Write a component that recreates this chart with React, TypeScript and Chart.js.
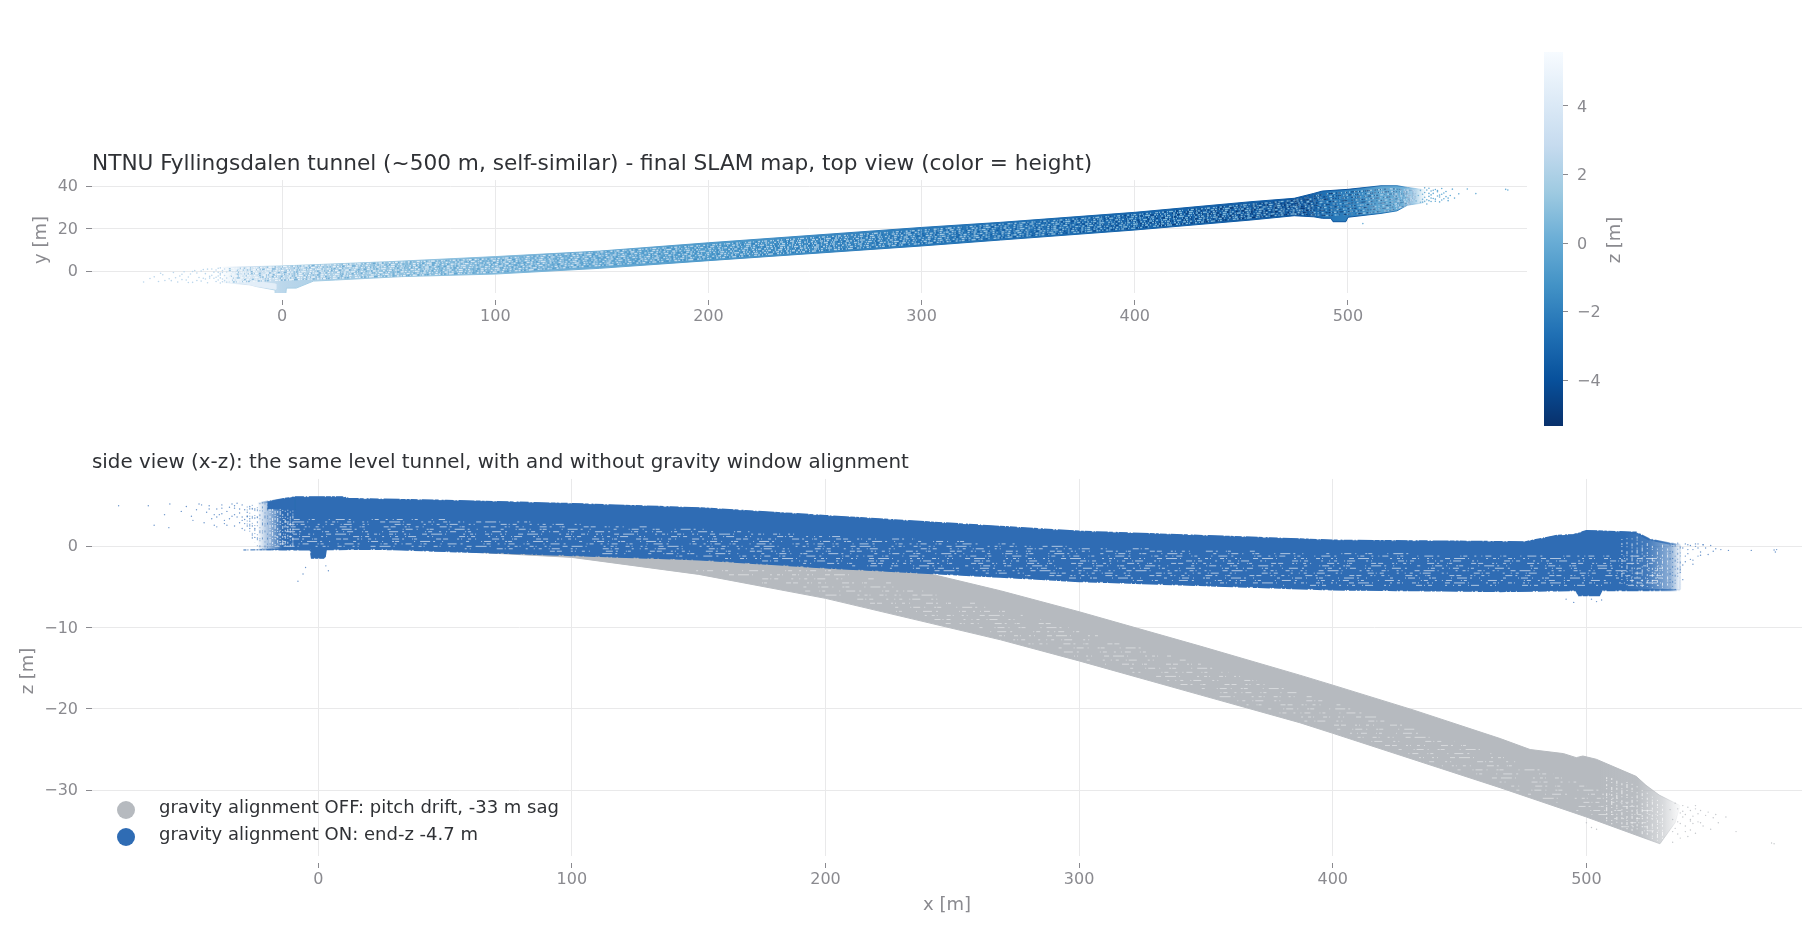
import { useEffect, useRef } from "react"
import { Chart, registerables } from "chart.js"

Chart.register(...registerables)
Chart.defaults.font.family = "'DejaVu Sans'"

const xTicks = [0, 100, 200, 300, 400, 500]
const topYTicks = [0, 20, 40]
const sideZTicks = [-30, -20, -10, 0]
const barTicks = [-4, -2, 0, 2, 4]
const barMin = -5.33
const barMax = 5.57

// top view: outline of the tunnel
const topOutlineX = [-28, 0, 50, 100, 149, 200, 300, 337, 400, 454.5, 474.8, 484, 488, 500, 515.5, 523, 528, 534, 537, 537, 534, 528, 523, 515.5, 500, 499, 493, 492, 488, 484, 474.8, 454.5, 400, 337, 300, 200, 149, 100, 56, 25, 14.7, 6.6, 2, 1.7, -3.3, -3.3, -12, -15, -27.6]
const topOutlineY = [1.9, 2.5, 4.5, 6.9, 9.5, 13.4, 20.6, 23, 27.7, 32.7, 34.3, 36.6, 37.7, 38.5, 40.2, 40.2, 39.4, 38.6, 38, 32.4, 31.9, 31.1, 28.4, 27.2, 25.4, 23.3, 23.3, 24.9, 24.9, 25.6, 26.1, 24.1, 19.4, 14.7, 11.9, 5, 1.4, -1.3, -2.5, -4.1, -4.6, -7.9, -7.9, -10.7, -10.7, -8.8, -7.2, -6.4, -5.3]

// pale floor patch left of the origin
const patchX = [-20, -10, -3, -3, -12, -19]
const patchY = [-4.8, -5.2, -6, -8.4, -6.9, -5.4]

// scan lines along the tunnel
const trackX = [-25, 100, 200, 300, 400, 475]
const trackYs = [
  [-5.1, -0.4, 6.0, 13.05, 20.3, 27.0],
  [-4.2, 0.5, 6.9, 13.95, 21.2, 27.9],
  [-3.3, 1.4, 7.8, 14.85, 22.1, 28.8],
  [-2.4, 2.3, 8.7, 15.75, 23.0, 29.7],
  [-1.5, 3.2, 9.6, 16.65, 23.9, 30.6],
  [-0.6, 4.1, 10.5, 17.55, 24.8, 31.5],
  [0.3, 5.0, 11.4, 18.45, 25.7, 32.4],
  [1.2, 5.9, 12.3, 19.35, 26.6, 33.3],
]
const flareX = [475, 490, 505, 520, 532]
const flareYs = [
  [26.9, 26.2, 27.1, 28.6, 32.6],
  [27.7, 27.5, 28.4, 29.9, 33.2],
  [28.6, 28.7, 29.7, 31.1, 33.9],
  [29.4, 30.0, 31.0, 32.4, 34.5],
  [30.2, 31.3, 32.3, 33.7, 35.2],
  [31.0, 32.6, 33.6, 35.0, 35.9],
  [31.8, 33.9, 34.9, 36.3, 36.5],
  [32.7, 35.1, 36.2, 37.5, 37.2],
  [33.5, 36.4, 37.5, 38.8, 37.8],
]

const topLeftTailX = [-65, -62, -58, -56, -53, -51, -49, -48, -46, -45, -43, -42, -41, -39, -38, -37, -36, -35, -34, -33, -32, -31, -30, -30, -29, -29, -28, -28, -34, -37, -40, -44, -47, -52, -60, -57, -55, -50, -47, -44, -42, -40, -38, -36, -35, -33, -32, -31, -31, -30, -30, -29, -29, -29, -28, -28, -27, -27, -27, -26, -26, -26]
const topLeftTailY = [-5, -3.4, -4.8, -1.6, -3.5, -0.6, -5, -2.2, -0.2, -4.1, -1.3, -5.2, 0.4, -2.9, -4.6, 0.8, -1.1, -5.4, -3.2, 1.1, -0.4, -4.8, -2.2, 1.4, -5.5, -1, -3.6, 0.3, -2.4, -3.3, -0.8, -2.7, -3.9, -4.4, -2.6, -0.9, -4.3, -3, -1.4, -5.3, -0.1, -4.3, 0.1, -3.6, 1, -1.9, -3.3, 0.6, -2.8, -0.5, -4.1, 1.6, -3.1, -1.7, -4.9, -0.6, 1.1, -2, -4.4, -0.3, -3.2, -5.1]
const topRightTailX = [535, 536, 537, 538, 538, 539, 540, 541, 541, 542, 543, 544, 544, 545, 546, 547, 548, 549, 550, 552, 556, 560, 574, 575, 507, 536, 539, 542, 537, 540, 543, 532, 533, 534, 535, 535, 536, 537, 538, 539, 539, 540, 541, 542, 543, 544, 545, 546, 547, 534, 536, 538]
const topRightTailY = [32.5, 37, 33.6, 39, 35.2, 32.8, 36.6, 38.4, 33.9, 35.4, 32.6, 38.9, 36.2, 34.1, 37.5, 33.2, 35.6, 38.6, 34.4, 36.4, 38.7, 36.5, 38.5, 38.2, 22.4, 34.8, 34.4, 37.4, 31.6, 38.1, 34.9, 33, 35.6, 38, 33.8, 36.2, 32.9, 38.2, 33.2, 37.7, 35.9, 34.2, 32.9, 37.9, 35.8, 33.5, 36.8, 35.1, 34.4, 32.4, 39.2, 36.6]

// side view: outlines
const greyOutlineX = [60, 100, 150, 200, 242.7, 269, 300, 348, 387, 400, 432, 466, 477.8, 490.9, 496, 498.6, 503.9, 519.6, 523.5, 528.7, 537, 535, 529, 500, 466, 400, 387, 348, 300, 269, 200, 150, 100, 60]
const greyOutlineZ = [-0.6, -1, -1.4, -2.4, -3.5, -5.47, -8.05, -12.3, -15.85, -17.08, -20.16, -23.65, -25, -25.5, -26, -25.8, -26.2, -28.3, -29.4, -30.6, -31.9, -34, -36.6, -33.3, -29.7, -23, -21.7, -18.3, -14.1, -11.5, -6.4, -3.45, -1.36, -0.7]
const blueOutlineX = [-24, -19.8, -9.2, 10, 12, 50.6, 100, 150.7, 200, 300, 387, 400, 476, 488, 495, 500, 519.6, 524.7, 532.5, 537, 537, 506, 505, 497, 496, 466, 400, 300, 269, 200, 150, 100, 59, 24, 3, 2.5, -2.5, -3, -24]
const blueOutlineZ = [5.3, 5.5, 6.03, 6.03, 5.82, 5.6, 5.2, 4.68, 3.73, 1.8, 0.86, 0.7, 0.5, 1.27, 1.39, 1.88, 1.68, 0.86, 0.37, 0.2, -5.38, -5.38, -6, -6, -5.38, -5.5, -5.3, -4.27, -3.74, -2.6, -1.6, -1.07, -0.66, -0.3, -0.35, -1.4, -1.4, -0.37, -0.4]
// solid cap of the cloud above the thinning left end
const blueCapX = [-20, -9.2, -9.2, -20]
const blueCapZ = [5.5, 6.03, 4.5, 4.6]
// thin floor sliver left of the cloud
const blueSliverX = [-29.5, -16]
const blueSliverZ = [-0.45, -0.4]

// white gaps in the blue cloud: one row per z level
const blueRowZ = [3.3, 3.0, 2.7, 2.4, 2.1, 1.8, 1.5, 1.2, 0.9, 0.6, 0.3, 0.0, -0.3, -0.6, -0.9, -1.2, -1.5, -1.8, -2.1, -2.4, -2.7, -3.0, -3.3, -3.6, -3.9, -4.2, -4.5, -4.8]
const blueRowFrom = [-14, -15, -16, -16, -16, -17, -17, -17, -17, -17, -18, -18, 55, 85, 112, 140, 160, 175, 190, 205, 225, 243, 262, 278, 296, 320, 350, 380]
const blueRowTo = [50, 85, 110, 130, 155, 170, 190, 210, 235, 255, 275, 300, 330, 370, 430, 530, 530, 530, 530, 530, 530, 530, 530, 530, 530, 530, 530, 530]

// pale gaps in the grey cloud
const greyRowZ = [-3, -3.5, -4, -4.5, -5, -5.5, -6, -6.5, -7, -7.5, -8, -8.5, -9, -9.5, -10, -10.5, -11, -11.5, -12, -12.5, -13, -13.5, -14, -14.5, -15, -15.5, -16, -16.5, -17, -17.5, -18, -18.5, -19, -19.5, -20, -20.5, -21, -21.5, -22, -22.5, -23, -23.5, -24, -24.5, -25, -25.5, -26, -26.5, -27, -27.5, -28, -28.5, -29, -29.5, -30, -30.5, -31, -31.5, -32, -32.5, -33, -33.5, -34, -34.5, -35]
const greyRowFrom = [149, 158, 166, 175, 183, 192, 200, 207, 214, 220, 227, 234, 241, 247, 254, 261, 268, 274, 280, 286, 292, 298, 303, 309, 315, 321, 326, 332, 338, 344, 349, 355, 360, 366, 371, 377, 382, 388, 393, 399, 404, 409, 414, 419, 424, 429, 434, 438, 443, 448, 453, 458, 463, 468, 472, 477, 482, 487, 491, 496, 500, 505, 509, 514, 518]
const greyRowTo = [205, 212, 219, 226, 232, 239, 246, 253, 259, 266, 273, 279, 285, 290, 296, 302, 308, 314, 319, 325, 331, 337, 342, 348, 353, 359, 365, 370, 376, 381, 387, 392, 398, 403, 408, 413, 418, 423, 428, 433, 438, 443, 448, 453, 458, 463, 468, 472, 477, 482, 487, 491, 496, 500, 505, 510, 514, 518, 522, 526, 530, 530, 530, 530, 530]

// thinning ends of the clouds, one column per x
const blueFadeX = [-19, -18, -17, -16, -15, -14, -13, -12, -11, -10, 514, 516, 518, 520, 522, 524, 526, 528, 530, 532]
const blueFadeTop = [4.6, 4.6, 4.6, 4.6, 4.6, 4.6, 4.5, 4.5, 4.4, 4.4, 0.9, 1, 1.1, 1.2, 0.6, 0.4, 0.3, 0.2, 0.2, 0.1]
const blueFadeBottom = [0.1, 0.1, 0.1, 0.1, 0, 0, 0, 0, 0, 0, -4.6, -4.8, -4.8, -5, -5, -5, -5.1, -5.2, -5.2, -5.2]
const blueEdgeX = [-28, -27, -26, -25, -24, -23, -22, -21, -20, 533, 534, 535, 536, 537]
const blueEdgeTop = [4.9, 5, 5.1, 5.2, 5.3, 5.3, 5.4, 5.4, 5.5, 0.3, 0.3, 0.2, 0.2, 0.1]
const blueEdgeBottom = [2.6, 1.7, 0.9, 0.5, 0, -0.2, -0.3, -0.3, -0.3, -5.2, -5, -4.8, -4.4, -3.6]

const greyFadeX = [508, 510, 512, 514, 516, 518, 520, 522, 524, 526, 528, 530]
const greyFadeTop = [-28.4, -28.5, -28.6, -28.9, -29, -29.1, -29.4, -30, -30.2, -30.8, -31.2, -31.8]
const greyFadeBottom = [-33.9, -34.2, -34.4, -34.6, -34.8, -35.1, -35.3, -35.5, -35.8, -36, -36.2, -36.3]

const blueTailX = [-78.7, -67, -64.7, -58.9, -60.6, -58.5, -54, -49.4, -46, -40, -52, -50, -48, -47, -45, -44, -43, -42, -41, -40, -39, -38, -37, -36, -35, -34, -33, -33, -32, -32, -31, -31, -30, -30, -29, -29, -28, -28, -27, -27, -36, -38, -41, -43, -33, -30, -29, 540, 542, 544, 534, 536, 538, 541, 543, 545, 546, 547, 548, 549, 550, 551, 553, 556, 565, 574, 574.5, 575, 535, 537, 539, 492, 495, 502, 504, 506, -5, -6, 3, -8, 4, -40, -38, -37, -35, -34, -33, -31, -30, -29, -28, -27, -26, -25, -24, -26, -27, -25, 538, 539, 540, 541, 542, 543, 544, 545, 546, 539, 540, 542, 544, 537, 538]
const blueTailZ = [5, 5, 2.6, 2.3, 3.9, 5.2, 4.3, 3.2, 5.1, 2.4, 4.9, 3.7, 4.5, 5.2, 2.9, 4.2, 5, 3.4, 2.6, 4.6, 3.9, 5.1, 2.8, 4.3, 3.4, 5.2, 2.5, 4.7, 3.6, 5.3, 2.9, 4.1, 3.2, 5.1, 2, 4.5, 3.7, 2.5, 4.9, 3.1, 2.6, 4, 3.9, 4.6, 3.9, 2.2, 3.3, 0.2, -0.4, 0.3, -1.5, 0.4, -2.3, -1.6, 0, -0.7, 0.2, -0.2, -1, 0.1, -0.6, -0.3, -0.4, -0.5, -0.5, -0.45, -0.7, -0.4, -5.3, -2.8, -1.2, -6.5, -6.9, -6.5, -6.8, -6.6, -2.6, -3.4, -2.4, -4.3, -3, 3.6, 4.7, 3.2, 4.8, 3.7, 5, 4.6, 3.6, 2.8, 4.2, 3.4, 4.6, 2.2, 3.6, 1.4, 2.2, 1.1, -0.2, 0.3, -0.9, 0.1, -1.7, 0.3, -0.2, -1.1, 0.2, -1.9, -0.4, -2.2, -1.2, -3.2, -4.1]

const greyTailX = [535, 537, 538, 539, 540, 541, 542, 543, 544, 545, 546, 547, 548, 549, 550, 551, 552, 555, 559, 573, 574, 534, 536, 538, 541, 543, 500, 502, 504, 533, 534, 535, 536, 537, 538, 539, 540, 541, 542, 543, 544, 545, 534, 536, 537, 539, 541]
const greyTailZ = [-31.6, -34.1, -31.9, -33, -32.1, -34.9, -33.2, -32.3, -33.9, -32.5, -34.4, -33.1, -32.7, -34.8, -33.4, -33, -34, -33.3, -35.1, -36.5, -36.6, -36.4, -35.4, -32.6, -33.6, -35.3, -34, -34.6, -34.8, -32.4, -33.6, -34.7, -32.3, -35.9, -33.3, -34.4, -35.7, -32.5, -34.1, -31.9, -32.9, -34, -35.1, -33.9, -32.8, -35.1, -33.8]

const legendItems = ["gravity alignment OFF: pitch drift, -33 m sag", "gravity alignment ON: end-z -4.7 m"]

const BLUE = "#2f6cb4"
const GREY = "#b6babf"
const blueFillX = [-24, -19, -14, 515, 524, 533, 537]
const blueFillC = ["rgba(47,108,180,0)", "rgba(47,108,180,0.5)", "rgba(47,108,180,1)", "rgba(47,108,180,1)", "rgba(47,108,180,0.9)", "rgba(47,108,180,0.55)", "rgba(47,108,180,0.05)"]
const greyFillX = [60, 505, 520, 530, 537]
const greyFillC = ["rgba(182,186,191,1)", "rgba(182,186,191,1)", "rgba(182,186,191,0.95)", "rgba(182,186,191,0.55)", "rgba(182,186,191,0.05)"]

const blues = ["#08306b", "#08519c", "#2171b5", "#4292c6", "#6baed6", "#9ecae1", "#c6dbef", "#deebf7", "#f7fbff"]
const baseStopX = [-30, -20, 0, 60, 120, 200, 300, 400, 480, 490, 505, 515, 525, 531, 537]
const baseStopC = ["rgba(225,237,248,0)", "rgba(200,222,240,0.55)", "#bbd7eb", "#8dc0de", "#74b1d8", "#509ccc", "#2b7bba", "#1a68ae", "#125aa2", "#2273b5", "#3585c0", "#5ea5d1", "#6baed6", "rgba(130,186,222,0.7)", "rgba(166,206,228,0)"]
const edgeStopX = [-30, -12, 0, 100, 200, 300, 400, 500, 524, 532, 537]
const edgeStopC = ["rgba(198,219,239,0)", "#cde0f0", "#a9cfe5", "#84bbdc", "#4a96c9", "#2272b5", "#1160a8", "#08519c", "#2a7ab9", "rgba(120,180,220,0.5)", "rgba(158,202,225,0)"]
const lightStopX = [-30, 100, 200, 300, 400, 500, 536]
const lightStopC = ["#f3f8fc", "#d5e6f3", "#b8d5ea", "#a3c9e3", "#7fb8da", "#86bcdc", "#c6dbef"]
const darkStopX = [-30, 150, 250, 350, 450, 520]
const darkStopC = ["rgba(66,146,198,0.5)", "rgba(66,146,198,0.6)", "rgba(33,113,181,0.7)", "rgba(8,81,156,0.8)", "rgba(8,48,107,0.9)", "rgba(8,48,107,0.85)"]
const flareDarkX = [475, 500, 520, 532]
const flareDarkC = ["rgba(8,48,107,0.85)", "rgba(8,48,107,0.75)", "rgba(8,48,107,0.45)", "rgba(8,48,107,0.1)"]

const speckleA = [2, 1, 1, 3, 2, 2, 1, 4, 3, 1, 1, 2, 2, 3, 1, 1, 4, 2, 1, 3, 2, 1, 1, 5, 1, 2, 3, 2, 1, 4, 2, 2, 1, 1, 3, 3]
const speckleB = [1, 3, 2, 1, 1, 5, 2, 2, 1, 1, 3, 4, 1, 2, 4, 3, 1, 1, 2, 6, 1, 4, 3, 1, 2, 2, 1, 3, 1, 1, 5, 4, 2, 1, 1, 2]
const speckleC = [1, 2, 1, 5, 2, 3, 1, 2, 1, 7, 3, 4, 1, 1, 2, 6, 1, 3, 2, 2, 1, 8, 1, 2, 3, 5, 1, 1, 1, 4, 2, 9, 1, 3, 2, 4]
const roughEdge = [3, 1, 7, 2, 1, 1, 12, 1, 4, 3, 2, 1, 9, 2, 1, 2, 16, 1, 5, 1]
const stripeDashes = [
  [2, 5, 1, 3, 6, 9, 1, 2, 3, 14, 1, 6, 9, 4, 2, 21, 1, 2, 4, 7],
  [4, 2, 1, 8, 2, 3, 1, 12, 5, 4, 11, 3, 1, 17, 2, 5, 3, 2, 1, 9],
  [1, 4, 3, 7, 1, 2, 8, 11, 2, 3, 1, 26, 6, 2, 1, 3, 4, 13, 2, 6],
  [5, 9, 2, 2, 1, 6, 3, 4, 1, 16, 7, 3, 2, 8, 1, 1, 3, 19, 5, 2],
  [3, 12, 1, 2, 7, 4, 1, 9, 2, 1, 4, 15, 1, 5, 10, 3, 2, 7, 1, 23],
]

const zip = (xs: number[], ys: number[]) => xs.map((x, i) => ({ x, y: ys[i] }))
const minusSign = (v: any) => String(v).replace("-", "\u2212")

function xGradient(xs: number[], colors: string[]) {
  return (c: any) => {
    const { ctx, chartArea, scales } = c.chart
    if (!chartArea) return colors[0]
    const a = scales.x.getPixelForValue(xs[0])
    const b = scales.x.getPixelForValue(xs[xs.length - 1])
    const g = ctx.createLinearGradient(a, 0, b, 0)
    xs.forEach((x, i) => g.addColorStop((x - xs[0]) / (xs[xs.length - 1] - xs[0]), colors[i]))
    return g
  }
}

const lineSet = (data: any[], color: any, width: number, dash: number[] = [], dashOffset = 0) => ({
  data,
  showLine: true,
  pointRadius: 0,
  fill: false,
  borderColor: color,
  borderWidth: width,
  borderDash: dash,
  borderDashOffset: dashOffset,
  tension: 0,
})
const shapeSet = (data: any[], color: any, edge: any, edgeWidth = 1) => ({
  ...lineSet(data, edge, edgeWidth),
  fill: "shape",
  backgroundColor: color,
})
const dotSet = (data: any[], color: any, radius: number) => ({
  data,
  showLine: false,
  pointRadius: radius,
  pointBorderWidth: 0,
  pointBackgroundColor: color,
})

// later in the list paints on top
const painted = (sets: any[]) => sets.map((d, i) => ({ ...d, order: sets.length - i }))

// rotated axis names, placed like the reference (bottom to top)
const axisName = (id: string, text: string, x: number, y: number) => ({
  id,
  afterDraw(chart: any) {
    const { ctx } = chart
    ctx.save()
    ctx.translate(x, y)
    ctx.rotate(-Math.PI / 2)
    ctx.fillStyle = "#8a8a8f"
    ctx.font = "18px 'DejaVu Sans'"
    ctx.textAlign = "center"
    ctx.textBaseline = "middle"
    ctx.fillText(text, 0, 0)
    ctx.restore()
  },
})

function panelOptions(o: any) {
  return {
    responsive: false,
    animation: false as const,
    devicePixelRatio: 1,
    events: [],
    layout: { padding: { left: 0, right: o.right, top: 0, bottom: o.bottom } },
    plugins: {
      legend: { display: false },
      tooltip: { enabled: false },
      filler: { drawTime: "beforeDatasetDraw" },
      title: {
        display: true,
        text: o.title,
        align: "start",
        fullSize: false,
        color: "#2f3135",
        font: { size: o.titleSize, weight: "normal" },
        padding: { top: o.titleTop, bottom: o.titleBottom },
      },
    },
    scales: {
      x: {
        type: "linear",
        min: o.xMin,
        max: o.xMax,
        afterBuildTicks: (s: any) => { s.ticks = xTicks.map((value) => ({ value })) },
        afterFit: (s: any) => { s.height = o.xAxisHeight },
        border: { display: false },
        grid: { color: "#e9e9ea", lineWidth: 1, tickColor: "#8a8a8f", tickLength: 12, tickBorderDash: [0, 7, 5, 50], tickWidth: 1 },
        ticks: { color: "#8a8a8f", font: { size: 16 }, padding: 2, maxRotation: 0, autoSkip: false, callback: minusSign },
        title: o.xTitle
          ? { display: true, text: o.xTitle, color: "#8a8a8f", font: { size: 18 }, padding: { top: o.xTitlePad, bottom: 0 } }
          : { display: false },
      },
      y: {
        type: "linear",
        min: o.yMin,
        max: o.yMax,
        afterBuildTicks: (s: any) => { s.ticks = o.yTicks.map((value: number) => ({ value })) },
        afterFit: (s: any) => { s.width = 92 },
        border: { display: false },
        grid: { color: "#e9e9ea", lineWidth: 1, tickColor: "#8a8a8f", tickLength: 6, tickWidth: 1 },
        ticks: { color: "#8a8a8f", font: { size: 16 }, padding: 8, labelOffset: 1, autoSkip: false, callback: minusSign },
      },
    },
  } as any
}

const legendPlugin = {
  id: "sideLegend",
  afterDraw(chart: any) {
    const { ctx, scales } = chart
    ctx.save()
    legendItems.forEach((text, i) => {
      const px = scales.x.left + 34
      const py = chart.chartArea.bottom - 46 + i * 27
      ctx.beginPath()
      ctx.arc(px, py, 9, 0, Math.PI * 2)
      ctx.fillStyle = i === 0 ? GREY : BLUE
      ctx.fill()
      ctx.fillStyle = "#2f3135"
      ctx.font = "18px 'DejaVu Sans'"
      ctx.textBaseline = "middle"
      ctx.fillText(text, px + 33, py - 1.5)
    })
    ctx.restore()
  },
}

const canvasStyle = { position: "absolute", left: 0, top: 0 } as const

export default function App() {
  const topRef = useRef<HTMLCanvasElement>(null)
  const sideRef = useRef<HTMLCanvasElement>(null)
  const barRef = useRef<HTMLCanvasElement>(null)

  useEffect(() => {
    if (!topRef.current || !sideRef.current || !barRef.current) return

    const base = xGradient(baseStopX, baseStopC)
    const edge = xGradient(edgeStopX, edgeStopC)
    const light = xGradient(lightStopX, lightStopC)
    const dark = xGradient(darkStopX, darkStopC)
    const flareDark = xGradient(flareDarkX, flareDarkC)
    const blueFill = xGradient(blueFillX, blueFillC)
    const greyFill = xGradient(greyFillX, greyFillC)

    const topChart = new Chart(topRef.current, {
      type: "scatter",
      data: {
        datasets: painted([
          dotSet(zip(topLeftTailX, topLeftTailY), "#bcd7ec", 0.8),
          dotSet(zip(topRightTailX, topRightTailY), "#6baed6", 0.8),
          shapeSet(zip(topOutlineX, topOutlineY), base, edge, 1),
          shapeSet(zip(patchX, patchY), "#e3eef8", "#e3eef8"),
          ...trackYs.map((ys, i) => lineSet(zip(trackX, ys), dark, 1.4, i % 2 ? speckleC : speckleB, i * 11)),
          ...trackYs.map((ys, i) => lineSet(zip(trackX, ys), light, 1.3, i % 2 ? speckleA : speckleB, i * 17 + 5)),
          ...flareYs.map((ys, i) => lineSet(zip(flareX, ys), light, 1.5, speckleA, i * 13)),
          ...flareYs.map((ys, i) => lineSet(zip(flareX, ys), flareDark, 1.1, speckleB, i * 19 + 2)),
        ]),
      },
      options: panelOptions({
        right: 293, bottom: 603, title: "NTNU Fyllingsdalen tunnel (~500 m, self-similar) - final SLAM map, top view (color = height)",
        titleSize: 21.65, titleTop: 151.5, titleBottom: 2.6,
        xMin: -89.2, xMax: 584, yMin: -10.2, yMax: 42.86, yTicks: topYTicks, xAxisHeight: 40,
      }),
      plugins: [axisName("yName", "y [m]", 41.8, 240)],
    })

    const sideChart = new Chart(sideRef.current, {
      type: "scatter",
      data: {
        datasets: painted([
          dotSet(zip(greyTailX, greyTailZ), "#c4c7cb", 0.7),
          shapeSet(zip(greyOutlineX, greyOutlineZ), greyFill, greyFill, 1),
          ...greyRowZ.map((z, i) => lineSet(zip([greyRowFrom[i], greyRowTo[i]], [z, z]), "rgba(236,237,239,0.7)", 0.9, stripeDashes[i % 5], i * 23)),
          ...greyFadeX.map((x, i) => lineSet(zip([x, x], [greyFadeTop[i], greyFadeBottom[i]]), "rgba(255,255,255,0.7)", 1, speckleA, i * 7)),
          dotSet(zip(blueTailX, blueTailZ), "#6b95cb", 0.7),
          ...blueEdgeX.map((x, i) => lineSet(zip([x, x], [blueEdgeTop[i], blueEdgeBottom[i]]), "rgba(47,108,180,0.6)", 1, speckleC, i * 7)),
          lineSet(zip(blueSliverX, blueSliverZ), BLUE, 1, [3, 1, 1, 2, 5, 1, 2, 1]),
          shapeSet(zip(blueOutlineX, blueOutlineZ), blueFill, blueFill, 1),
          lineSet(zip(blueOutlineX, blueOutlineZ), blueFill, 2.2, roughEdge),
          shapeSet(zip(blueCapX, blueCapZ), BLUE, BLUE, 0.5),
          ...blueRowZ.map((z, i) => lineSet(zip([blueRowFrom[i], blueRowTo[i]], [z, z]), "rgba(240,243,248,0.75)", 0.9, stripeDashes[i % 5], i * 29)),
          ...blueFadeX.map((x, i) => lineSet(zip([x, x], [blueFadeTop[i], blueFadeBottom[i]]), "rgba(255,255,255,0.7)", 1, speckleA, i * 7)),
        ]),
      },
      options: panelOptions({
        right: 18, bottom: 20, title: "side view (x-z): the same level tunnel, with and without gravity window alignment",
        titleSize: 19.88, titleTop: 451, titleBottom: 4.1,
        xMin: -89.2, xMax: 585, yMin: -38.1, yMax: 8.29, yTicks: sideZTicks, xAxisHeight: 60, xTitle: "x [m]", xTitlePad: 0,
      }),
      plugins: [legendPlugin, axisName("zName", "z [m]", 27.9, 671)],
    })

    const barChart = new Chart(barRef.current, {
      type: "bar",
      data: {
        labels: ["z"],
        datasets: [
          {
            data: [[barMin, barMax]],
            barPercentage: 1,
            categoryPercentage: 1,
            backgroundColor: (c: any) => {
              const { ctx, chartArea } = c.chart
              if (!chartArea) return blues[4]
              const g = ctx.createLinearGradient(0, chartArea.bottom, 0, chartArea.top)
              blues.forEach((color, i) => g.addColorStop(i / (blues.length - 1), color))
              return g
            },
          },
        ],
      } as any,
      options: {
        responsive: false,
        animation: false,
        devicePixelRatio: 1,
        events: [],
        layout: { padding: { left: 1544, right: 197, top: 52, bottom: 510 } },
        plugins: { legend: { display: false }, tooltip: { enabled: false }, title: { display: false } },
        scales: {
          x: { display: false },
          y: {
            position: "right",
            min: barMin,
            max: barMax,
            afterBuildTicks: (s: any) => { s.ticks = barTicks.map((value) => ({ value })) },
            afterFit: (s: any) => { s.width = 60 },
            border: { display: false },
            grid: { drawOnChartArea: false, tickColor: "#8a8a8f", tickLength: 5 },
            ticks: { color: "#8a8a8f", font: { size: 16 }, padding: 9, labelOffset: 1.5, autoSkip: false, callback: minusSign },
          },
        },
      } as any,
      plugins: [axisName("barName", "z [m]", 1615, 240)],
    })

    return () => {
      topChart.destroy()
      sideChart.destroy()
      barChart.destroy()
    }
  }, [])

  return (
    <div style={{ position: "absolute", left: 0, top: 0, width: 1820, height: 936, background: "#fff", overflow: "hidden" }}>
      <canvas ref={topRef} width={1820} height={936} style={canvasStyle} />
      <canvas ref={sideRef} width={1820} height={936} style={canvasStyle} />
      <canvas ref={barRef} width={1820} height={936} style={canvasStyle} />
    </div>
  )
}
